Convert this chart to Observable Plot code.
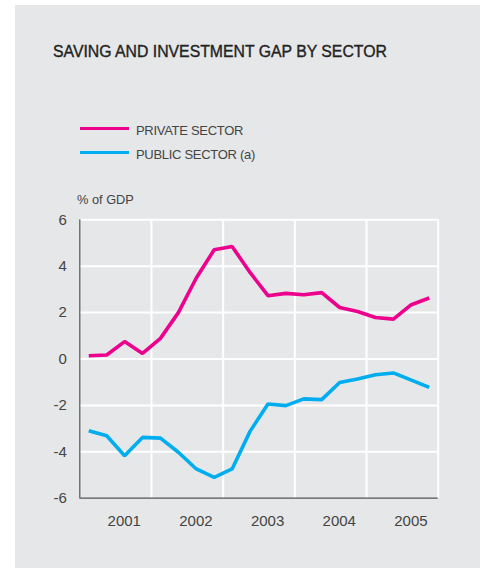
<!DOCTYPE html>
<html>
<head>
<meta charset="utf-8">
<script src="https://cdn.jsdelivr.net/npm/d3@7"></script>
<script src="https://cdn.jsdelivr.net/npm/@observablehq/plot@0.6"></script>
<style>
  html, body { margin: 0; padding: 0; background: #fff; }
  #page { position: relative; width: 480px; height: 568px; overflow: hidden; font-family: "Liberation Sans", Arial, sans-serif; color: #333; }
  #panel { position: absolute; left: 15px; top: 5px; width: 465px; height: 563px; background: #e6e7e8; }
  #title { position: absolute; left: 53px; top: 44px; font-size: 15.8px; color: #222; white-space: nowrap; -webkit-text-stroke: 0.35px #222; line-height: 1; }
  .leg { position: absolute; left: 80px; font-size: 13px; letter-spacing: -0.3px; color: #444; white-space: nowrap; line-height: 1; }
  .leg .sw { position: absolute; left: 0; width: 49px; height: 3.6px; }
  .leg .lbl { position: absolute; left: 56px; }
  #unit { position: absolute; left: 77px; top: 194px; font-size: 12.8px; color: #444; line-height: 1; white-space: nowrap; }
  #chart { position: absolute; left: 15px; top: 190px; }
</style>
</head>
<body>
<div id="page">
  <div id="panel"></div>
  <div id="title">SAVING AND INVESTMENT GAP BY SECTOR</div>
  <div class="leg" style="top:127px"><div class="sw" style="top:-0.3px;background:#ec008c"></div><div class="lbl" style="top:-3px">PRIVATE SECTOR</div></div>
  <div class="leg" style="top:150px"><div class="sw" style="top:0.5px;background:#00aeef"></div><div class="lbl" style="top:-2px">PUBLIC SECTOR (a)</div></div>
  <div id="unit">% of GDP</div>
  <div id="chart"></div>
</div>
<script>
const years = [2001, 2002, 2003, 2004, 2005];
const quarters = ["Q1", "Q2", "Q3", "Q4"];
const privateSector = [0.14, 0.17, 0.75, 0.24, 0.89, 2.0, 3.49, 4.71, 4.85, 3.73, 2.73, 2.83, 2.77, 2.86, 2.22, 2.05, 1.79, 1.72, 2.34, 2.63];
const publicSector = [-3.09, -3.31, -4.17, -3.38, -3.41, -4.02, -4.74, -5.10, -4.74, -3.12, -1.94, -2.01, -1.72, -1.75, -1.01, -0.86, -0.68, -0.60, -0.91, -1.22];
const yTicks = [-6, -4, -2, 0, 2, 4, 6];
const seriesNames = ["PRIVATE SECTOR", "PUBLIC SECTOR (a)"];
const seriesColors = ["#ec008c", "#00aeef"];

// periods: year + quarter index -> decimal year at the middle of the quarter
const periods = years.flatMap(y => quarters.map((q, i) => ({year: y, q: i, t: y + (i + 0.5) / 4})));
const rows = [];
[privateSector, publicSector].forEach((vals, s) => {
  vals.forEach((v, i) => rows.push({series: seriesNames[s], t: periods[i].t, value: v}));
});

const chart = Plot.plot({
  width: 465,
  height: 360,
  marginLeft: 64.3,
  marginRight: 42.3,
  marginTop: 29.3,
  marginBottom: 52.3,
  style: {background: "transparent", fontFamily: "'Liberation Sans', Arial, sans-serif", color: "#333"},
  x: {domain: [years[0], years[years.length - 1] + 1]},
  y: {domain: [yTicks[0], yTicks[yTicks.length - 1]]},
  color: {domain: seriesNames, range: seriesColors},
  marks: [
    Plot.gridY(yTicks.slice(1), {stroke: "#fff", strokeOpacity: 1, strokeWidth: 2}),
    Plot.gridX(years.slice(1).concat([years[years.length - 1] + 1]), {stroke: "#fff", strokeOpacity: 1, strokeWidth: 2}),
    Plot.ruleX([years[0]], {stroke: "#555", strokeWidth: 1.2}),
    Plot.ruleY([yTicks[0]], {stroke: "#555", strokeWidth: 1.2}),
    Plot.line(rows, {x: "t", y: "value", z: "series", stroke: "series", strokeWidth: 3.6, strokeLinejoin: "miter", strokeLinecap: "butt"}),
    Plot.axisY(yTicks, {tickSize: 0, tickPadding: 13, fontSize: 15, label: null, fill: "#444", tickFormat: d => String(d)}),
    Plot.axisX(years.map(y => y + 0.62), {tickSize: 0, tickPadding: 17, fontSize: 15, label: null, fill: "#444", tickFormat: d => String(Math.floor(d))})
  ]
});
document.getElementById("chart").appendChild(chart);
</script>
</body>
</html>
